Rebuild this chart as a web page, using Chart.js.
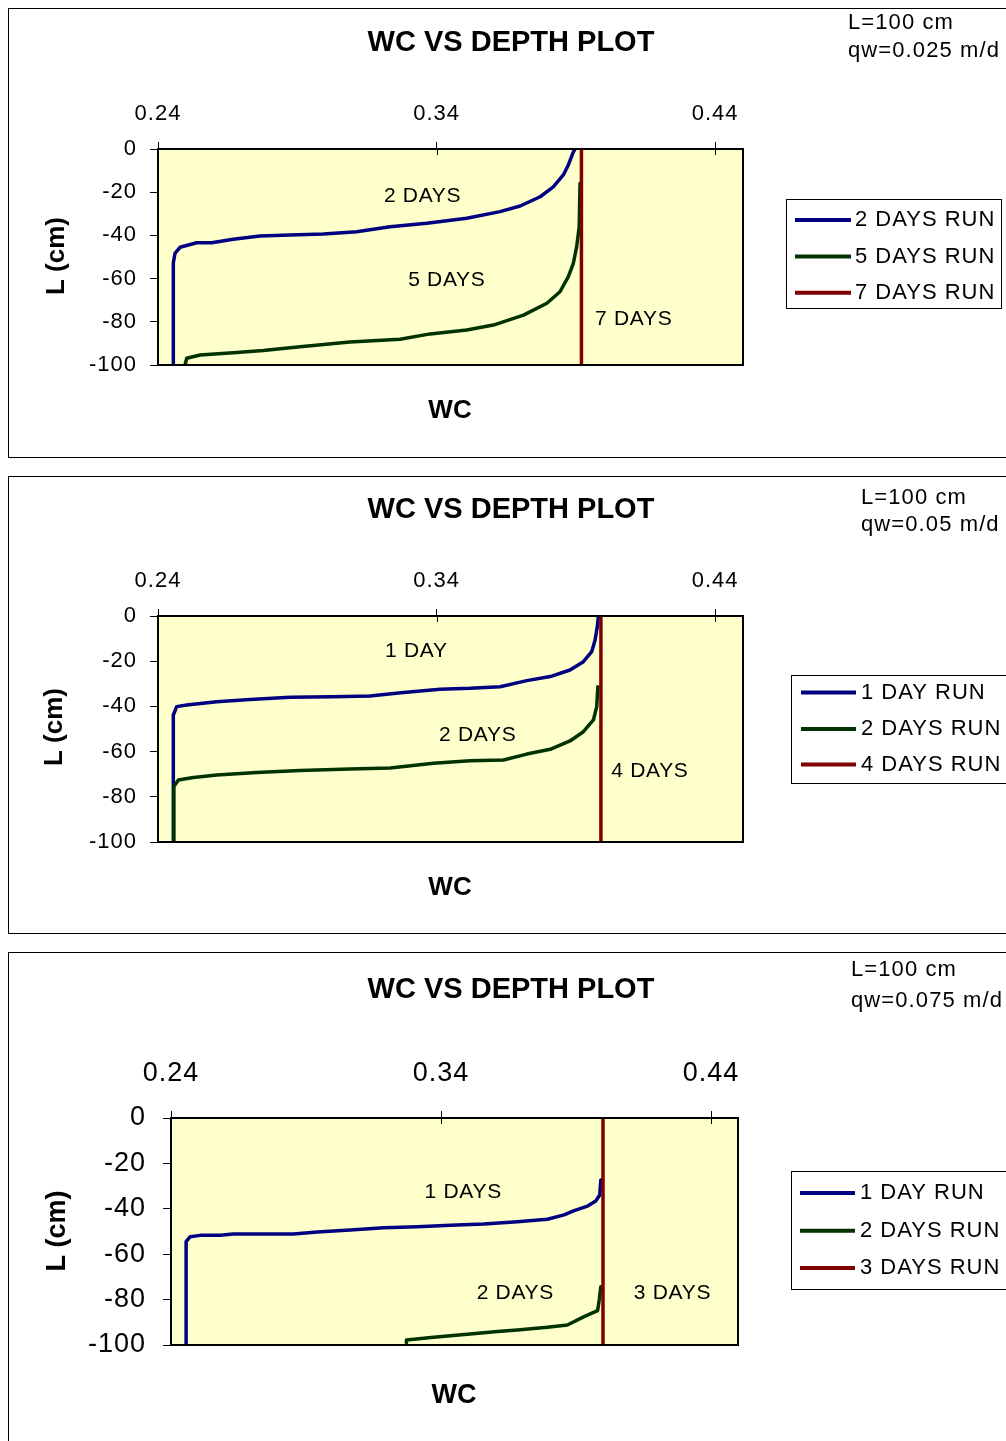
<!DOCTYPE html>
<html>
<head>
<meta charset="utf-8">
<script src="https://cdn.jsdelivr.net/npm/chart.js@4.4.1/dist/chart.umd.min.js"></script>
<style>
  html, body { margin: 0; padding: 0; background: #fff; width: 1006px; height: 1441px; overflow: hidden; position: relative; }
  .frame { position: absolute; border: 1px solid #000; box-sizing: border-box; }
  canvas { position: absolute; left: 0; }
</style>
</head>
<body>
<div class="frame" style="left:8px;top:8px;width:1010px;height:450px"></div>
<div class="frame" style="left:8px;top:476px;width:1010px;height:458px"></div>
<div class="frame" style="left:8px;top:952px;width:1010px;height:500px"></div>
<canvas id="c1" width="1006" height="468" style="top:0px"></canvas>
<canvas id="c2" width="1006" height="476" style="top:468px"></canvas>
<canvas id="c3" width="1006" height="497" style="top:944px"></canvas>
<script>
// Axis ticks shared by all three plots
const wcTicks = [0.24, 0.34, 0.44];
const depthTicks = [-100, -80, -60, -40, -20, 0];

// ---- Plot 1: qw = 0.025 m/d ----
const p1Labels = ['2 DAYS RUN', '5 DAYS RUN', '7 DAYS RUN'];
const p1Day2Wc    = [0.2455, 0.2455, 0.2461, 0.2479, 0.2539, 0.2593, 0.2670, 0.2766, 0.2874, 0.2994, 0.3113, 0.3233, 0.3365, 0.3508, 0.3628, 0.3700, 0.3772, 0.3819, 0.3855, 0.3873, 0.3889, 0.3897];
const p1Day2Depth = [-100, -52.8, -48.3, -45.5, -43.4, -43.4, -41.8, -40.3, -39.8, -39.4, -38.3, -36.0, -34.4, -32.1, -29.0, -26.4, -22.1, -17.5, -12.0, -7.4, -2.0, 0];
const p1Day5Wc    = [0.2497, 0.2503, 0.2551, 0.2670, 0.2778, 0.2910, 0.3089, 0.3269, 0.3377, 0.3508, 0.3604, 0.3712, 0.3796, 0.3843, 0.3873, 0.3891, 0.3903, 0.3912, 0.3915];
const p1Day5Depth = [-100, -96.9, -95.4, -94.3, -93.3, -91.5, -89.4, -88.1, -85.6, -83.8, -81.5, -76.9, -71.4, -66.1, -59.1, -52.9, -45.2, -36.0, -15.9];
const p1Day7Wc    = [0.392, 0.392];
const p1Day7Depth = [0, -100];

// ---- Plot 2: qw = 0.05 m/d ----
const p2Labels = ['1 DAY RUN', '2 DAYS RUN', '4 DAYS RUN'];
const p2Day1Wc    = [0.2455, 0.2455, 0.2467, 0.2503, 0.2611, 0.2730, 0.2874, 0.3029, 0.3161, 0.3281, 0.3413, 0.3520, 0.3628, 0.3724, 0.3808, 0.3879, 0.3927, 0.3957, 0.3969, 0.3977, 0.3981];
const p2Day1Depth = [-100, -43.8, -40.1, -39.4, -37.9, -36.9, -36.0, -35.7, -35.4, -33.9, -32.4, -32.0, -31.3, -28.6, -26.8, -23.9, -20.2, -15.8, -10.6, -4.7, 0];
const p2Day2Wc    = [0.2455, 0.2457, 0.2473, 0.2527, 0.2611, 0.2754, 0.2910, 0.3089, 0.3233, 0.3389, 0.3520, 0.3640, 0.3724, 0.3808, 0.3879, 0.3927, 0.3963, 0.3975, 0.3979];
const p2Day2Depth = [-100, -75.5, -72.6, -71.5, -70.4, -69.2, -68.4, -67.7, -67.3, -65.2, -64.0, -63.7, -61.1, -59.0, -55.3, -51.2, -46.0, -40.1, -31.3];
const p2Day4Wc    = [0.399, 0.399];
const p2Day4Depth = [0, -100];

// ---- Plot 3: qw = 0.075 m/d ----
const p3Labels = ['1 DAY RUN', '2 DAYS RUN', '3 DAYS RUN'];
const p3Day1Wc    = [0.2456, 0.2456, 0.2471, 0.2508, 0.2582, 0.2631, 0.2854, 0.2941, 0.3064, 0.3188, 0.3312, 0.3435, 0.3559, 0.3683, 0.3794, 0.3856, 0.3893, 0.3943, 0.3973, 0.3988, 0.3992];
const p3Day1Depth = [-100, -54.5, -52.3, -51.7, -51.7, -51.1, -51.1, -50.2, -49.3, -48.3, -47.9, -47.3, -46.7, -45.7, -44.6, -42.7, -40.8, -38.8, -36.6, -33.9, -27.3];
const p3Day2Wc    = [0.3272, 0.3272, 0.3373, 0.3497, 0.3609, 0.3683, 0.3794, 0.3868, 0.3930, 0.3980, 0.3986, 0.3992];
const p3Day2Depth = [-99.0, -97.8, -96.6, -95.3, -94.1, -93.4, -92.2, -91.2, -87.5, -84.9, -80.2, -74.3];
const p3Day3Wc    = [0.400, 0.400];
const p3Day3Depth = [0, -100];

const FONT = '"Liberation Sans", Arial, Helvetica, sans-serif';
const COLORS = ['#000080', '#003300', '#800000'];
Chart.defaults.font.family = FONT;
Chart.defaults.color = '#000';

function toPoints(wc, depth) {
  return wc.map((w, i) => ({ x: w, y: depth[i] }));
}

// Background, frame, inner tick halves, in-plot labels, titles, notes and legend
const panelDecor = {
  id: 'panelDecor',
  beforeDraw(chart) {
    // slightly open lettering for the tick labels
    chart.ctx.letterSpacing = '1px';
  },
  beforeDatasetsDraw(chart) {
    const a = chart.chartArea, ctx = chart.ctx;
    ctx.save();
    ctx.fillStyle = '#FFFFCC';
    ctx.fillRect(a.left, a.top, a.right - a.left, a.bottom - a.top);
    ctx.restore();
  },
  afterDatasetsDraw(chart) {
    const a = chart.chartArea, ctx = chart.ctx, L = chart.options.plugins.panelDecor;
    const xs = chart.scales.x, ys = chart.scales.y;
    ctx.save();
    ctx.strokeStyle = '#000';
    ctx.lineWidth = 2;
    ctx.strokeRect(a.left, a.top, a.right - a.left, a.bottom - a.top);
    ctx.lineWidth = 1;
    wcTicks.forEach(v => {
      const px = Math.round(xs.getPixelForValue(v)) + 0.5;
      ctx.beginPath();
      ctx.moveTo(px, a.top);
      ctx.lineTo(px, a.top + 6);
      ctx.stroke();
    });
    ctx.fillStyle = '#000';
    ctx.font = L.markSize + 'px ' + FONT;
    ctx.letterSpacing = '0.7px';
    ctx.textAlign = 'left';
    ctx.textBaseline = 'middle';
    L.marks.forEach(m => {
      ctx.fillText(m.text, xs.getPixelForValue(m.wc), ys.getPixelForValue(m.depth));
    });
    ctx.restore();
  },
  afterDraw(chart) {
    const ctx = chart.ctx, L = chart.options.plugins.panelDecor;
    ctx.save();
    ctx.fillStyle = '#000';
    ctx.textBaseline = 'middle';
    ctx.textAlign = 'center';
    ctx.letterSpacing = '0px';
    ctx.font = 'bold 29px ' + FONT;
    ctx.fillText(L.title, L.titleX, L.titleY);
    ctx.font = 'bold ' + L.axisTitleSize + 'px ' + FONT;
    ctx.fillText('WC', L.xTitleX, L.xTitleY);
    ctx.save();
    ctx.translate(L.yTitleX, L.yTitleY);
    ctx.rotate(-Math.PI / 2);
    ctx.fillText('L (cm)', 0, 0);
    ctx.restore();
    ctx.textAlign = 'left';
    ctx.letterSpacing = '1.1px';
    ctx.font = '22px ' + FONT;
    L.notes.forEach((t, i) => ctx.fillText(t, L.notesX, L.notesY[i]));
    // legend
    const g = L.legend;
    ctx.fillStyle = '#fff';
    ctx.fillRect(g.x, g.y, g.w, g.h);
    ctx.strokeStyle = '#000';
    ctx.lineWidth = 1;
    ctx.strokeRect(g.x + 0.5, g.y + 0.5, g.w, g.h);
    ctx.letterSpacing = '1px';
    chart.data.datasets.forEach((ds, i) => {
      ctx.strokeStyle = ds.borderColor;
      ctx.lineWidth = 4;
      ctx.beginPath();
      ctx.moveTo(g.lineX0, g.rows[i]);
      ctx.lineTo(g.lineX1, g.rows[i]);
      ctx.stroke();
      ctx.fillStyle = '#000';
      ctx.fillText(ds.label, g.textX, g.rows[i]);
    });
    ctx.restore();
  }
};

function makePlot(id, series, cfg) {
  new Chart(document.getElementById(id), {
    type: 'scatter',
    data: {
      datasets: series.map((s, i) => ({
        label: s.label,
        data: toPoints(s.wc, s.depth),
        showLine: true,
        borderColor: COLORS[i],
        backgroundColor: COLORS[i],
        borderWidth: 3.5,
        borderJoinStyle: 'round',
        borderCapStyle: 'round',
        pointRadius: 0,
        tension: 0,
        order: 3 - i
      }))
    },
    options: {
      responsive: false,
      animation: false,
      devicePixelRatio: 1,
      layout: { padding: { left: 0, top: 0, right: cfg.padR, bottom: cfg.padB } },
      plugins: {
        legend: { display: false },
        tooltip: { enabled: false },
        panelDecor: cfg.decor
      },
      scales: {
        x: {
          type: 'linear',
          position: 'top',
          min: 0.24,
          max: 0.45,
          afterFit(s) { s.height = cfg.axisH; },
          afterBuildTicks(s) { s.ticks = wcTicks.map(v => ({ value: v })); },
          ticks: {
            autoSkip: false,
            maxRotation: 0,
            padding: cfg.xPad,
            color: '#000',
            font: { size: cfg.tickSize },
            callback: v => Number(v).toFixed(2)
          },
          grid: { drawOnChartArea: false, tickLength: 7, color: '#000', lineWidth: 1 },
          border: { color: '#000', width: 2 }
        },
        y: {
          type: 'linear',
          min: -100,
          max: 0,
          afterFit(s) { s.width = cfg.axisW; },
          afterBuildTicks(s) { s.ticks = depthTicks.map(v => ({ value: v })); },
          ticks: {
            padding: cfg.yPad,
            color: '#000',
            font: { size: cfg.tickSize },
            callback: v => String(v)
          },
          grid: { drawOnChartArea: false, tickLength: 8, color: '#000', lineWidth: 1 },
          border: { color: '#000', width: 2 }
        }
      }
    },
    plugins: [panelDecor]
  });
}

makePlot('c1', [
  { label: p1Labels[0], wc: p1Day2Wc, depth: p1Day2Depth },
  { label: p1Labels[1], wc: p1Day5Wc, depth: p1Day5Depth },
  { label: p1Labels[2], wc: p1Day7Wc, depth: p1Day7Depth }
], {
  axisW: 158, axisH: 149, padR: 263, padB: 103, tickSize: 22, xPad: 15, yPad: 13,
  decor: {
    title: 'WC VS DEPTH PLOT', titleX: 511, titleY: 43,
    axisTitleSize: 26, xTitleX: 450, xTitleY: 411, yTitleX: 57, yTitleY: 256,
    notes: ['L=100 cm', 'qw=0.025 m/d'], notesX: 848, notesY: [22.5, 51],
    markSize: 21,
    marks: [
      { text: '2 DAYS', wc: 0.3211, depth: -21.8 },
      { text: '5 DAYS', wc: 0.3298, depth: -60.6 },
      { text: '7 DAYS', wc: 0.3969, depth: -78.7 }
    ],
    legend: { x: 786, y: 199, w: 215, h: 109, rows: [220, 256.5, 292.7], lineX0: 795, lineX1: 851, textX: 855 }
  }
});

makePlot('c2', [
  { label: p2Labels[0], wc: p2Day1Wc, depth: p2Day1Depth },
  { label: p2Labels[1], wc: p2Day2Wc, depth: p2Day2Depth },
  { label: p2Labels[2], wc: p2Day4Wc, depth: p2Day4Depth }
], {
  axisW: 158, axisH: 148, padR: 263, padB: 102, tickSize: 22, xPad: 15, yPad: 13,
  decor: {
    title: 'WC VS DEPTH PLOT', titleX: 511, titleY: 42,
    axisTitleSize: 26, xTitleX: 450, xTitleY: 420, yTitleX: 55, yTitleY: 259,
    notes: ['L=100 cm', 'qw=0.05 m/d'], notesX: 861, notesY: [29.5, 57],
    markSize: 21,
    marks: [
      { text: '1 DAY', wc: 0.3215, depth: -15.5 },
      { text: '2 DAYS', wc: 0.3409, depth: -52.7 },
      { text: '4 DAYS', wc: 0.4027, depth: -68.6 }
    ],
    legend: { x: 791, y: 207, w: 230, h: 108, rows: [224.5, 261, 296.5], lineX0: 801, lineX1: 856, textX: 861 }
  }
});

makePlot('c3', [
  { label: p3Labels[0], wc: p3Day1Wc, depth: p3Day1Depth },
  { label: p3Labels[1], wc: p3Day2Wc, depth: p3Day2Depth },
  { label: p3Labels[2], wc: p3Day3Wc, depth: p3Day3Depth }
], {
  axisW: 171, axisH: 174, padR: 268, padB: 96, tickSize: 27, xPad: 21, yPad: 17,
  decor: {
    title: 'WC VS DEPTH PLOT', titleX: 511, titleY: 46,
    axisTitleSize: 27, xTitleX: 454, xTitleY: 452, yTitleX: 58, yTitleY: 287,
    notes: ['L=100 cm', 'qw=0.075 m/d'], notesX: 851, notesY: [26, 57],
    markSize: 21,
    marks: [
      { text: '1 DAYS', wc: 0.3339, depth: -32.6 },
      { text: '2 DAYS', wc: 0.3532, depth: -77.1 },
      { text: '3 DAYS', wc: 0.4114, depth: -77.1 }
    ],
    legend: { x: 791, y: 227, w: 230, h: 118, rows: [249, 286.7, 324], lineX0: 800, lineX1: 855, textX: 860 }
  }
});
</script>
</body>
</html>
